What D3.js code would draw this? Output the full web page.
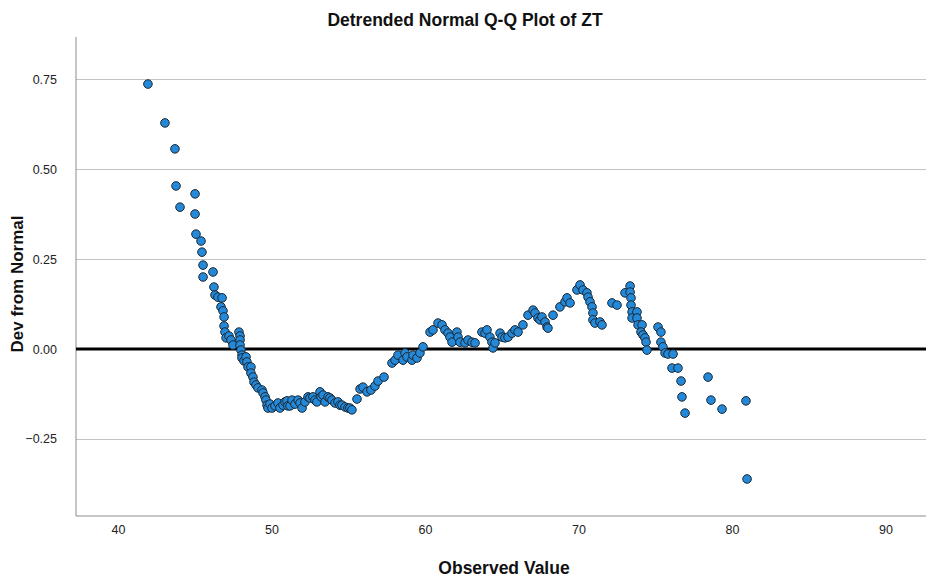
<!DOCTYPE html>
<html>
<head>
<meta charset="utf-8">
<script src="https://cdn.jsdelivr.net/npm/d3@7"></script>
<style>
  html, body { margin: 0; padding: 0; background: #fff; }
  svg { display: block; font-family: "Liberation Sans", Arial, sans-serif; }
</style>
</head>
<body>
<svg id="chart" width="926" height="578"></svg>
<script>
// Observed values (x) and detrended deviations from normal (y)
const observed = [
  41.95, 43.06, 43.71, 43.78, 44.04, 45.02, 45.02, 45.08, 45.41, 45.47,
  45.54, 45.54, 46.19, 46.25, 46.32, 46.51, 46.78, 46.71, 46.84, 46.91,
  46.91, 46.97, 47.04, 47.23, 47.36, 47.49, 47.88, 47.95, 47.95, 47.95,
  48.01, 48.08, 48.08, 48.21, 48.34, 48.40, 48.47, 48.66, 48.66, 48.79,
  48.86, 48.99, 49.12, 49.38, 49.45, 49.58, 49.64, 49.71, 49.77, 49.90,
  50.03, 50.23, 50.42, 50.55, 50.75, 50.88, 51.01, 51.07, 51.21, 51.34,
  51.53, 51.73, 51.86, 51.99, 52.18, 52.38, 52.51, 52.70, 52.83, 52.96,
  53.16, 53.23, 53.36, 53.49, 53.68, 53.81, 53.94, 54.14, 54.33, 54.46,
  54.59, 54.79, 54.98, 55.11, 55.24, 55.57, 55.77, 55.96, 56.22, 56.48,
  56.74, 56.94, 57.33, 57.85, 58.05, 58.24, 58.57, 58.70, 58.83, 59.15,
  59.22, 59.48, 59.67, 59.87, 60.33, 60.52, 60.85, 61.11, 61.30, 61.50,
  61.63, 61.76, 62.08, 62.15, 62.28, 62.61, 62.80, 63.06, 63.26, 63.71,
  63.91, 64.04, 64.23, 64.36, 64.43, 64.56, 64.89, 65.02, 65.21, 65.41,
  65.67, 65.86, 66.06, 66.38, 66.71, 67.04, 67.17, 67.36, 67.49, 67.62,
  67.82, 67.95, 68.01, 68.34, 68.79, 69.12, 69.25, 69.45, 69.90, 70.10,
  70.29, 70.55, 70.62, 70.75, 70.88, 70.94, 70.94, 71.07, 71.40, 71.53,
  72.18, 72.51, 73.03, 73.36, 73.36, 73.42, 73.42, 73.49, 73.49, 73.81,
  73.81, 73.88, 74.14, 74.07, 74.20, 74.33, 74.40, 74.46, 75.18, 75.37,
  75.37, 75.50, 75.64, 75.83, 76.16, 76.09, 76.48, 76.68, 76.74, 76.94,
  78.44, 78.63, 79.35, 80.91, 80.98
];
const deviation = [
  0.736, 0.628, 0.556, 0.453, 0.394, 0.431, 0.375, 0.319, 0.300, 0.269,
  0.233, 0.200, 0.214, 0.172, 0.150, 0.144, 0.142, 0.117, 0.106, 0.089,
  0.064, 0.047, 0.031, 0.036, 0.025, 0.011, 0.047, 0.036, 0.025, 0.011,
  -0.003, -0.017, -0.025, -0.033, -0.022, -0.036, -0.050, -0.050, -0.067, -0.078,
  -0.092, -0.100, -0.108, -0.114, -0.122, -0.133, -0.142, -0.156, -0.164, -0.153,
  -0.164, -0.158, -0.150, -0.164, -0.156, -0.147, -0.144, -0.158, -0.158, -0.142,
  -0.153, -0.142, -0.150, -0.164, -0.147, -0.133, -0.136, -0.133, -0.142, -0.147,
  -0.119, -0.133, -0.128, -0.147, -0.133, -0.136, -0.142, -0.150, -0.147, -0.156,
  -0.156, -0.161, -0.164, -0.164, -0.169, -0.139, -0.111, -0.106, -0.119, -0.114,
  -0.103, -0.089, -0.078, -0.039, -0.031, -0.017, -0.031, -0.011, -0.022, -0.031,
  -0.017, -0.025, -0.011, 0.006, 0.047, 0.053, 0.072, 0.067, 0.053, 0.044,
  0.033, 0.019, 0.047, 0.033, 0.019, 0.017, 0.025, 0.019, 0.017, 0.047,
  0.044, 0.053, 0.033, 0.019, 0.003, 0.017, 0.044, 0.033, 0.031, 0.033,
  0.044, 0.053, 0.047, 0.067, 0.094, 0.108, 0.100, 0.086, 0.081, 0.089,
  0.075, 0.061, 0.058, 0.094, 0.117, 0.131, 0.142, 0.128, 0.164, 0.178,
  0.164, 0.156, 0.144, 0.131, 0.117, 0.100, 0.081, 0.072, 0.075, 0.067,
  0.128, 0.122, 0.156, 0.175, 0.158, 0.142, 0.122, 0.103, 0.086, 0.103,
  0.086, 0.067, 0.067, 0.047, 0.039, 0.031, 0.019, -0.003, 0.061, 0.047,
  0.019, 0.006, -0.011, -0.014, -0.014, -0.053, -0.053, -0.089, -0.133, -0.178,
  -0.078, -0.142, -0.167, -0.144, -0.361
];
const xTicks = [40, 50, 60, 70, 80, 90];
const yTicks = [-0.25, 0.00, 0.25, 0.50, 0.75];
const xDomain = [37.264, 92.638];
const yDomain = [-0.4639, 0.8667];

const svg = d3.select("#chart");
const margin = { left: 76, top: 37, right: 0, bottom: 62 };
const W = 926, H = 578;
const x = d3.scaleLinear().domain(xDomain).range([margin.left, W - margin.right]);
const y = d3.scaleLinear().domain(yDomain).range([H - margin.bottom, margin.top]);

// Horizontal gridlines with left labels
const yAxis = d3.axisLeft(y).tickValues(yTicks)
  .tickSize(-(W - margin.left - margin.right))
  .tickFormat(d3.format(".2f"))
  .tickPadding(19);
const gy = svg.append("g").attr("transform", `translate(${margin.left},0)`).call(yAxis);
gy.select(".domain").remove();
gy.selectAll(".tick line").attr("stroke", "#c4c4c4").attr("stroke-width", 1);
gy.selectAll(".tick text")
  .attr("fill", "#222").attr("font-size", 12.5)
  .attr("font-family", "Liberation Sans, Arial, sans-serif");

// X axis labels (no tick marks)
const xAxis = d3.axisBottom(x).tickValues(xTicks).tickSize(0).tickPadding(9)
  .tickFormat(d3.format("d"));
const gx = svg.append("g").attr("transform", `translate(0,${H - margin.bottom})`).call(xAxis);
gx.select(".domain").remove();
gx.selectAll(".tick text")
  .attr("fill", "#222").attr("font-size", 12.5)
  .attr("font-family", "Liberation Sans, Arial, sans-serif");

// Frame: left and bottom axis lines
svg.append("line")
  .attr("x1", margin.left).attr("x2", margin.left)
  .attr("y1", margin.top).attr("y2", H - margin.bottom)
  .attr("stroke", "#8c8c8c").attr("stroke-width", 1);
svg.append("line")
  .attr("x1", margin.left).attr("x2", W)
  .attr("y1", H - margin.bottom).attr("y2", H - margin.bottom)
  .attr("stroke", "#8c8c8c").attr("stroke-width", 1);

// Zero reference line
svg.append("line")
  .attr("x1", margin.left).attr("x2", W)
  .attr("y1", y(0)).attr("y2", y(0))
  .attr("stroke", "#000").attr("stroke-width", 3);

// Points
const pts = observed.map((v, i) => ({ x: v, y: deviation[i] }));
svg.append("g").selectAll("circle").data(pts).join("circle")
  .attr("cx", d => x(d.x)).attr("cy", d => y(d.y)).attr("r", 4.3)
  .attr("fill", "#2389d8").attr("stroke", "#1b2733").attr("stroke-width", 1);

// Titles
svg.append("text").attr("x", 465).attr("y", 26).attr("text-anchor", "middle")
  .attr("font-size", 17.5).attr("font-weight", "bold").attr("fill", "#111")
  .text("Detrended Normal Q-Q Plot of ZT");
svg.append("text").attr("x", 504).attr("y", 574).attr("text-anchor", "middle")
  .attr("font-size", 17.5).attr("font-weight", "bold").attr("fill", "#111")
  .text("Observed Value");
svg.append("text").attr("transform", "translate(23,284) rotate(-90)")
  .attr("text-anchor", "middle")
  .attr("font-size", 17).attr("font-weight", "bold").attr("fill", "#111")
  .text("Dev from Normal");
</script>
</body>
</html>
